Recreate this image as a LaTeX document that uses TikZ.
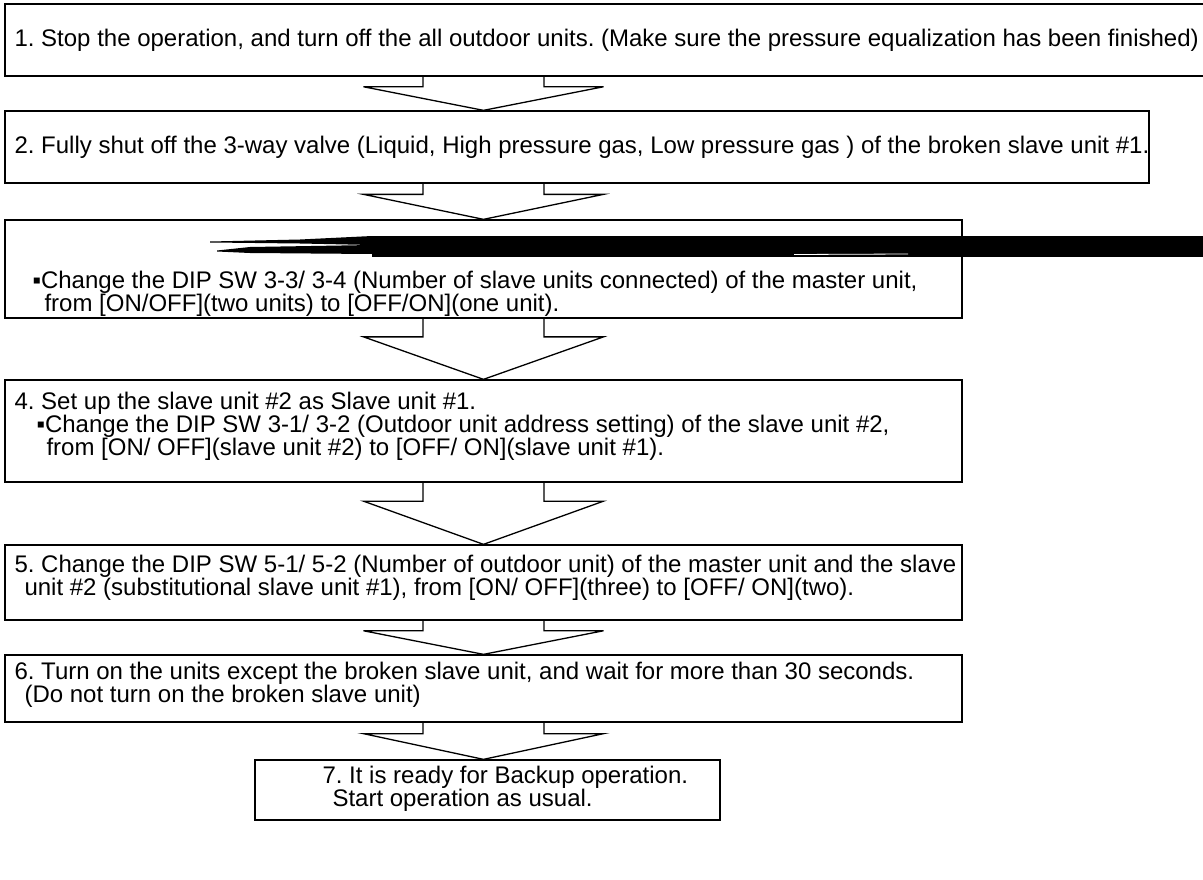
\documentclass[tikz,border=0pt]{standalone}
\usepackage{fontspec}
\setmainfont{Liberation Sans}
\usetikzlibrary{positioning,calc}

\begin{document}
\frenchspacing
\begin{tikzpicture}[x=1pt, y=-1pt,
  every node/.style={font=\fontsize{24}{23}\selectfont},
  box/.style={draw, line width=1.3pt, minimum width=957pt, inner sep=0pt},
  txt/.style={anchor=west, align=left, inner sep=0pt},
  blockarrow/.style={draw, line width=1.3pt, line join=miter}
]
\useasboundingbox (0,0) rectangle (1203,880);

% step boxes
\node[box, minimum width=1205pt, minimum height=72pt] (box1) at (607.5,40) {};
\node[box, minimum width=1144pt, minimum height=72pt] (box2) at (577,147) {};
\node[box, minimum height=98pt] (box3) at (483.5,269) {};
\node[box, minimum height=102pt] (box4) at (483.5,431) {};
\node[box, minimum height=75pt] (box5) at (483.5,582.5) {};
\node[box, minimum height=67pt] (box6) at (483.5,688.5) {};
\node[box, minimum width=465pt, minimum height=60pt] (box7) at (487.5,790) {};

% texts
\node[txt] (txt1) at ([xshift=10pt]box1.west) {1. Stop the operation, and turn off the all outdoor units. (Make sure the pressure equalization has been finished)};
\node[txt] (txt2) at ([xshift=10pt]box2.west) {2. Fully shut off the 3-way valve (Liquid, High pressure gas, Low pressure gas ) of the broken slave unit \#1.};
\node[txt, anchor=south west] (txt3) at ([xshift=28pt, yshift=2pt]box3.south west) {▪Change the DIP SW 3-3/ 3-4 (Number of slave units connected) of the master unit,\\
  \hspace*{12pt}from [ON/OFF](two units) to [OFF/ON](one unit).};
\node[txt] (txt4) at ([xshift=10pt, yshift=5pt]box4.west) {4. Set up the slave unit \#2 as Slave unit \#1.\\
  \hspace*{22pt}▪Change the DIP SW 3-1/ 3-2 (Outdoor unit address setting) of the slave unit \#2,\\
  \hspace*{32pt}from [ON/ OFF](slave unit \#2) to [OFF/ ON](slave unit \#1).};
\node[txt] (txt5) at ([xshift=10pt, yshift=5pt]box5.west) {5. Change the DIP SW 5-1/ 5-2 (Number of outdoor unit) of the master unit and the slave\\
  \hspace*{10pt}unit \#2 (substitutional slave unit \#1), from [ON/ OFF](three) to [OFF/ ON](two).};
\node[txt] (txt6) at ([xshift=10pt, yshift=4pt]box6.west) {6. Turn on the units except the broken slave unit, and wait for more than 30 seconds.\\
  \hspace*{10pt}(Do not turn on the broken slave unit)};
\node[txt] (txt7) at ([xshift=68pt, yshift=1pt]box7.west) {7. It is ready for Backup operation.\\
  \hspace*{10pt}Start operation as usual.};

% blacked out line in step 3
\fill (210,241.5) -- (300,239.5) -- (372,236) -- (372,245) -- (300,243.5) -- (210,242.5) -- cycle;
\fill (217,250.5) -- (250,247) -- (372,245) -- (372,254) -- (250,253) -- (217,251.5) -- cycle;
\fill (372,236) rectangle (1210,257);
\draw[white, line width=0.8pt] (794,254.5) -- (908,254);

% block arrows between steps
\foreach \up/\dn in {box1/box2, box2/box3, box3/box4, box4/box5, box5/box6, box6/box7}{
  \coordinate (tip) at (box4.north |- \dn.north);
  \coordinate (top) at (box4.north |- \up.south);
  \coordinate (neck) at ($(top)!0.3!(tip)$);
  \draw[blockarrow] ([xshift=-60.5pt]top) -- ([xshift=-60.5pt]neck) -- ([xshift=-120pt]neck)
    -- (tip) -- ([xshift=120pt]neck) -- ([xshift=60.5pt]neck) -- ([xshift=60.5pt]top);
}
\end{tikzpicture}
\end{document}
